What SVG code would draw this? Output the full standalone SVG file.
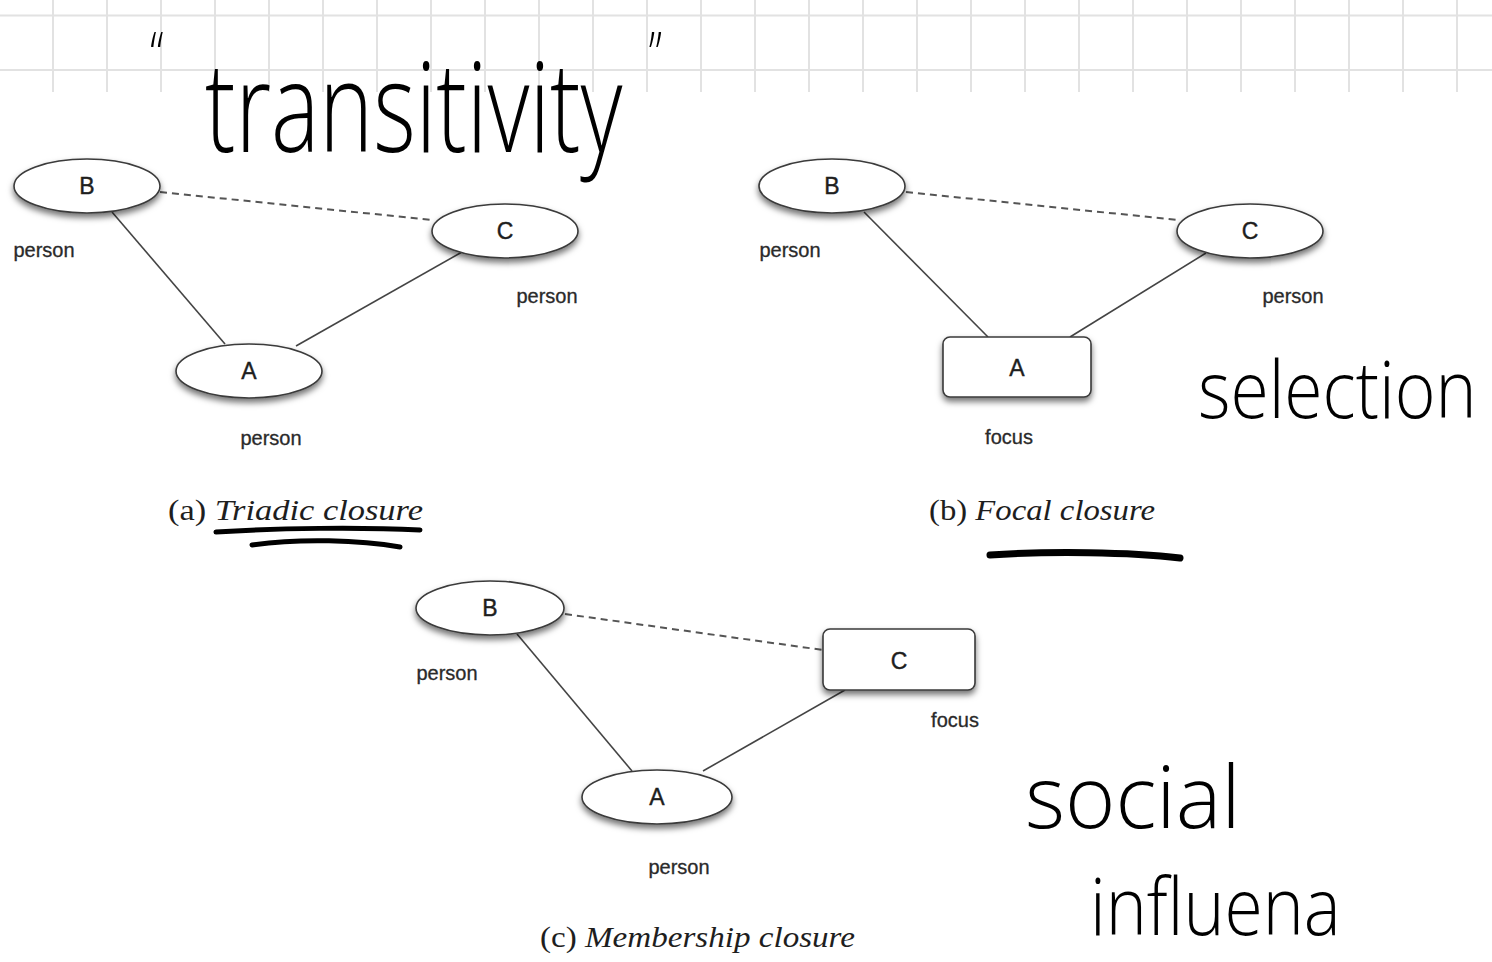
<svg xmlns="http://www.w3.org/2000/svg" width="1492" height="962" viewBox="0 0 1492 962">
<defs>
<filter id="sh" x="-20%" y="-30%" width="140%" height="170%">
<feDropShadow dx="0" dy="4" stdDeviation="3" flood-color="#000" flood-opacity="0.55"/>
</filter>
<style>
.grid{stroke:#e2e2e2;stroke-width:2}
.node{fill:#fff;stroke:#3a3a3a;stroke-width:1.6;filter:url(#sh)}
.nl{font-family:"Liberation Sans",Arial,sans-serif;font-size:23px;fill:#1e1e1e;text-anchor:middle;stroke:#1e1e1e;stroke-width:0.4}
.lab{font-family:"Liberation Sans",Arial,sans-serif;font-size:20px;fill:#2a2a2a;text-anchor:middle;stroke:#2a2a2a;stroke-width:0.3}
.edge{stroke:#444;stroke-width:1.6;fill:none}
.dash{stroke:#555;stroke-width:2;stroke-dasharray:7 5;fill:none}
.cap{font-family:"Liberation Serif","Times New Roman",serif;font-size:30px;fill:#1e1e1e}
.cap tspan.it{font-style:italic}
.hand{font-family:"Open Sans","DejaVu Sans",sans-serif;font-weight:300;fill:#000}
.ink{stroke:#000;fill:none;stroke-linecap:round}
</style>
</defs>
<rect width="1492" height="962" fill="#fff"/>
<g id="grid">
<line class="grid" x1="0" y1="15.5" x2="1492" y2="15.5"/>
<line class="grid" x1="0" y1="70" x2="1492" y2="70"/>
<path class="grid" d="M53 0V92M107 0V92M161 0V92M215 0V92M269 0V92M323 0V92M377 0V92M431 0V92M485 0V92M539 0V92M593 0V92M647 0V92M701 0V92M755 0V92M809 0V92M863 0V92M917 0V92M971 0V92M1025 0V92M1079 0V92M1133 0V92M1187 0V92M1241 0V92M1295 0V92M1349 0V92M1403 0V92M1457 0V92"/>
</g>
<g id="connectors">
<line class="dash" x1="160" y1="192" x2="432" y2="220"/>
<line class="edge" x1="112" y1="212" x2="225" y2="344"/>
<line class="edge" x1="296" y1="346" x2="462" y2="252"/>
<line class="dash" x1="906" y1="192" x2="1178" y2="220"/>
<line class="edge" x1="864" y1="212" x2="988" y2="337"/>
<line class="edge" x1="1070" y1="337" x2="1206" y2="253"/>
<line class="dash" x1="565" y1="614" x2="823" y2="650"/>
<line class="edge" x1="517" y1="634" x2="632" y2="771"/>
<line class="edge" x1="703" y1="771" x2="845" y2="690"/>
</g>
<g id="a-B"><ellipse class="node" cx="87" cy="186" rx="73" ry="27"/><text class="nl" x="87" y="194">B</text><text class="lab" x="44" y="257">person</text></g>
<g id="a-C"><ellipse class="node" cx="505" cy="231" rx="73" ry="27"/><text class="nl" x="505" y="239">C</text><text class="lab" x="547" y="303">person</text></g>
<g id="a-A"><ellipse class="node" cx="249" cy="371" rx="73" ry="27"/><text class="nl" x="249" y="379">A</text><text class="lab" x="271" y="445">person</text></g>
<g id="b-B"><ellipse class="node" cx="832" cy="186" rx="73" ry="27"/><text class="nl" x="832" y="194">B</text><text class="lab" x="790" y="257">person</text></g>
<g id="b-C"><ellipse class="node" cx="1250" cy="231" rx="73" ry="27"/><text class="nl" x="1250" y="239">C</text><text class="lab" x="1293" y="303">person</text></g>
<g id="b-A"><rect class="node" x="943" y="337" width="148" height="60" rx="7"/><text class="nl" x="1017" y="376">A</text><text class="lab" x="1009" y="444">focus</text></g>
<g id="c-B"><ellipse class="node" cx="490" cy="608" rx="74" ry="27"/><text class="nl" x="490" y="616">B</text><text class="lab" x="447" y="680">person</text></g>
<g id="c-C"><rect class="node" x="823" y="629" width="152" height="61" rx="7"/><text class="nl" x="899" y="669">C</text><text class="lab" x="955" y="727">focus</text></g>
<g id="c-A"><ellipse class="node" cx="657" cy="797" rx="75" ry="27"/><text class="nl" x="657" y="805">A</text><text class="lab" x="679" y="874">person</text></g>
<g id="captions">
<text class="cap" x="168" y="520" textLength="255" lengthAdjust="spacingAndGlyphs">(a) <tspan class="it">Triadic closure</tspan></text>
<text class="cap" x="929" y="520" textLength="226" lengthAdjust="spacingAndGlyphs">(b) <tspan class="it">Focal closure</tspan></text>
<text class="cap" x="540" y="947" textLength="315" lengthAdjust="spacingAndGlyphs">(c) <tspan class="it">Membership closure</tspan></text>
</g>
<g id="annotations">
<path class="ink" stroke-width="5" d="M216 532 C280 528 360 527 420 530"/>
<path class="ink" stroke-width="5" d="M252 545 C300 538 360 540 400 547"/>
<path class="ink" stroke-width="7" d="M990 555 C1050 551 1130 552 1180 558"/>
<text class="hand" transform="translate(205 152) scale(0.73 1)" font-size="125"><tspan x="-75" y="-76" font-size="60">“</tspan><tspan x="0" y="0">transitivity</tspan><tspan x="608" y="-76" font-size="60">”</tspan></text>
<text class="hand" transform="translate(1198 418) scale(0.87 1)" font-size="80">selection</text>
<text class="hand" x="1025" y="828" font-size="86">social</text>
<text class="hand" transform="translate(1090 935) scale(0.87 1)" font-size="80">influena</text>
</g>
</svg>
